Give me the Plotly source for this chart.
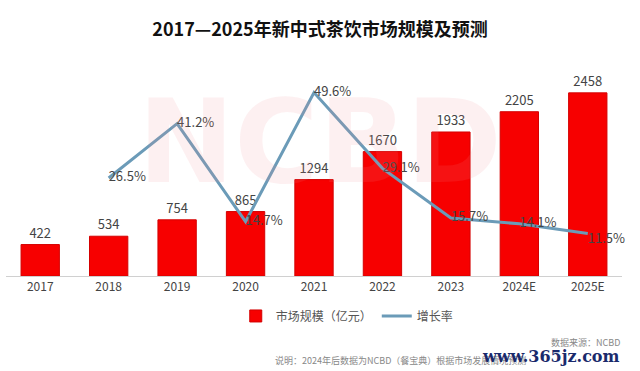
import plotly.graph_objects as go

years = ["2017", "2018", "2019", "2020", "2021", "2022", "2023", "2024E", "2025E"]
market_size = [422, 534, 754, 865, 1294, 1670, 1933, 2205, 2458]
growth_years = ["2018", "2019", "2020", "2021", "2022", "2023", "2024E", "2025E"]
growth_rate = [26.5, 41.2, 14.7, 49.6, 29.1, 15.7, 14.1, 11.5]
growth_text_pos = ["middle right"] * 7 + ["bottom right"]

FONT = "Noto Sans CJK SC"

fig = go.Figure()
fig.add_trace(go.Bar(
    x=years, y=market_size, name="市场规模（亿元）",
    marker=dict(color="#f70000", line=dict(color="#d40000", width=1)),
    width=0.56,
    text=[str(v) for v in market_size], textposition="outside",
    textfont=dict(size=13, color="#444444", family=FONT),
    cliponaxis=False,
))
fig.add_trace(go.Scatter(
    x=growth_years, y=growth_rate, name="增长率", yaxis="y2",
    mode="lines+text",
    line=dict(color="#6b9bb8", width=3),
    text=[f"{v}%" for v in growth_rate], textposition=growth_text_pos,
    textfont=dict(size=13, color="#444444", family=FONT),
    cliponaxis=False,
))

fig.update_layout(
    width=640, height=371,
    margin=dict(l=6, r=18, t=70, b=95),
    paper_bgcolor="white", plot_bgcolor="white",
    font=dict(family=FONT, color="#444444"),
    title=dict(text="<b>2017—2025年新中式茶饮市场规模及预测</b>",
               x=0.5, xanchor="center", y=0.92, yanchor="middle",
               font=dict(size=18, color="#111111", family=FONT)),
    xaxis=dict(showgrid=False, showline=True, linecolor="#d0d0d0", linewidth=1,
               ticks="", tickfont=dict(size=12, color="#444444", family=FONT)),
    yaxis=dict(range=[0, 2765], visible=False, showgrid=False),
    yaxis2=dict(range=[0, 55.7], overlaying="y", side="right", visible=False, showgrid=False),
    showlegend=True,
    legend=dict(orientation="h", x=0.554, xanchor="center", y=-0.194, yanchor="middle",
                font=dict(size=12, color="#555555", family=FONT), itemwidth=30),
    bargap=0.44,
)

fig.add_annotation(text="<b>NCBD</b>", xref="paper", yref="paper", x=0.51, y=0.65,
                   xanchor="center", yanchor="middle",
                   showarrow=False, font=dict(size=115, color="rgba(240,140,150,0.13)", family="DejaVu Sans"))
fig.add_annotation(text="数据来源：NCBD", xref="paper", yref="paper", x=1.0, y=-0.325,
                   xanchor="right", yanchor="middle", showarrow=False,
                   font=dict(size=9, color="#888888", family=FONT))
fig.add_annotation(text="说明：2024年后数据为NCBD（餐宝典）根据市场发展情况预测", xref="paper", yref="paper",
                   x=(273 - 6) / 616, y=-0.41, xanchor="left", yanchor="middle", showarrow=False,
                   font=dict(size=9, color="#888888", family=FONT))
fig.add_annotation(text="<b>www.365jz.com</b>", xref="paper", yref="paper", x=1.0, y=-0.39,
                   xanchor="right", yanchor="middle", showarrow=False,
                   font=dict(size=16, color="#1a2a6c", family="DejaVu Serif"))

fig.write_html("out.html", config={"displayModeBar": False},
               post_script="document.body.style.margin='0';")
